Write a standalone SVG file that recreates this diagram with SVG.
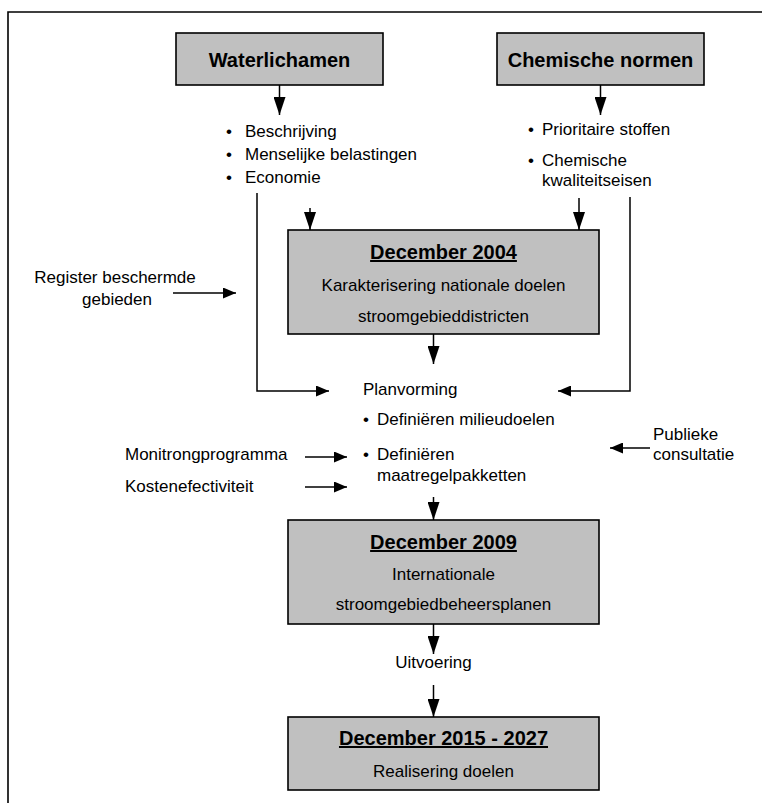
<svg xmlns="http://www.w3.org/2000/svg" width="762" height="803" viewBox="0 0 762 803">
  <defs>
    <style>
      text { font-family: "Liberation Sans", Arial, sans-serif; fill: #000; }
      .t { font-size: 17px; }
      .h { font-size: 20px; font-weight: bold; }
      .u { text-decoration: underline; }
      .box { fill: #c0c0c0; stroke: #000; stroke-width: 1.6; }
      .ln { fill: none; stroke: #000; stroke-width: 1.5; }
      .c { text-anchor: middle; }
    </style>
    <marker id="av" markerUnits="userSpaceOnUse" markerWidth="18" markerHeight="12" refX="18" refY="6" orient="auto">
      <path d="M0,0 L18,6 L0,12 z" fill="#000"/>
    </marker>
    <marker id="ah" markerUnits="userSpaceOnUse" markerWidth="13" markerHeight="11" refX="13" refY="5.5" orient="auto">
      <path d="M0,0 L13,5.5 L0,11 z" fill="#000"/>
    </marker>
  </defs>
  <rect width="762" height="803" fill="#fff"/>
  <path d="M8,803 V12 H762" fill="none" stroke="#000" stroke-width="1.6"/>

  <g id="connectors">
    <line class="ln" x1="279.5" y1="85" x2="279.5" y2="115" marker-end="url(#av)"/>
    <line class="ln" x1="600.5" y1="85" x2="600.5" y2="115" marker-end="url(#av)"/>
    <line class="ln" x1="310" y1="208" x2="310" y2="230" marker-end="url(#av)"/>
    <line class="ln" x1="579" y1="198" x2="579" y2="230" marker-end="url(#av)"/>
    <polyline class="ln" points="257,193 257,391 329,391" marker-end="url(#ah)"/>
    <polyline class="ln" points="630,197 630,391 558,391" marker-end="url(#ah)"/>
    <line class="ln" x1="173" y1="293" x2="236" y2="293" marker-end="url(#ah)"/>
    <line class="ln" x1="433.5" y1="334" x2="433.5" y2="364" marker-end="url(#av)"/>
    <line class="ln" x1="305" y1="457" x2="347" y2="457" marker-end="url(#ah)"/>
    <line class="ln" x1="305" y1="487" x2="347" y2="487" marker-end="url(#ah)"/>
    <line class="ln" x1="650" y1="448" x2="610" y2="448" marker-end="url(#ah)"/>
    <line class="ln" x1="433.5" y1="497" x2="433.5" y2="520" marker-end="url(#av)"/>
    <line class="ln" x1="433.5" y1="624" x2="433.5" y2="654" marker-end="url(#av)"/>
    <line class="ln" x1="433.5" y1="685" x2="433.5" y2="717" marker-end="url(#av)"/>
  </g>

  <g id="waterlichamen">
    <rect class="box" x="176" y="33" width="207" height="52"/>
    <text class="h c" x="279.5" y="66.5">Waterlichamen</text>
  </g>

  <g id="chemische-normen">
    <rect class="box" x="497" y="33" width="207" height="52"/>
    <text class="h c" x="600.5" y="66.5">Chemische normen</text>
  </g>

  <g id="waterlichamen-items">
    <text class="t" x="226" y="137">•</text>
    <text class="t" x="245" y="137">Beschrijving</text>
    <text class="t" x="226" y="160">•</text>
    <text class="t" x="245" y="160">Menselijke belastingen</text>
    <text class="t" x="226" y="183">•</text>
    <text class="t" x="245" y="183">Economie</text>
  </g>

  <g id="chemische-items">
    <text class="t" x="528" y="135">•</text>
    <text class="t" x="542" y="135">Prioritaire stoffen</text>
    <text class="t" x="528" y="166">•</text>
    <text class="t" x="542" y="166">Chemische</text>
    <text class="t" x="542" y="186">kwaliteitseisen</text>
  </g>

  <g id="register">
    <text class="t c" x="115" y="283">Register beschermde</text>
    <text class="t c" x="117" y="305">gebieden</text>
  </g>

  <g id="december-2004">
    <rect class="box" x="288" y="230" width="311" height="104"/>
    <text class="h c u" x="443.5" y="259">December 2004</text>
    <text class="t c" x="443.5" y="291">Karakterisering nationale doelen</text>
    <text class="t c" x="443.5" y="322">stroomgebieddistricten</text>
  </g>

  <g id="planvorming">
    <text class="t" x="363" y="395">Planvorming</text>
    <text class="t" x="363" y="425">•</text>
    <text class="t" x="377" y="425">Definiëren milieudoelen</text>
    <text class="t" x="363" y="460">•</text>
    <text class="t" x="377" y="460">Definiëren</text>
    <text class="t" x="377" y="481">maatregelpakketten</text>
  </g>

  <g id="monitoring">
    <text class="t" x="125" y="460">Monitrongprogramma</text>
  </g>
  <g id="kosteneffectiviteit">
    <text class="t" x="125" y="492">Kostenefectiviteit</text>
  </g>
  <g id="publieke-consultatie">
    <text class="t" x="653" y="440">Publieke</text>
    <text class="t" x="653" y="460">consultatie</text>
  </g>

  <g id="december-2009">
    <rect class="box" x="288" y="520" width="311" height="104"/>
    <text class="h c u" x="443.5" y="549">December 2009</text>
    <text class="t c" x="443.5" y="580">Internationale</text>
    <text class="t c" x="443.5" y="610">stroomgebiedbeheersplanen</text>
  </g>

  <g id="uitvoering">
    <text class="t c" x="433.5" y="668">Uitvoering</text>
  </g>

  <g id="december-2015-2027">
    <rect class="box" x="288" y="717" width="311" height="73"/>
    <text class="h c u" x="443.5" y="745">December 2015 - 2027</text>
    <text class="t c" x="443.5" y="777">Realisering doelen</text>
  </g>
</svg>
